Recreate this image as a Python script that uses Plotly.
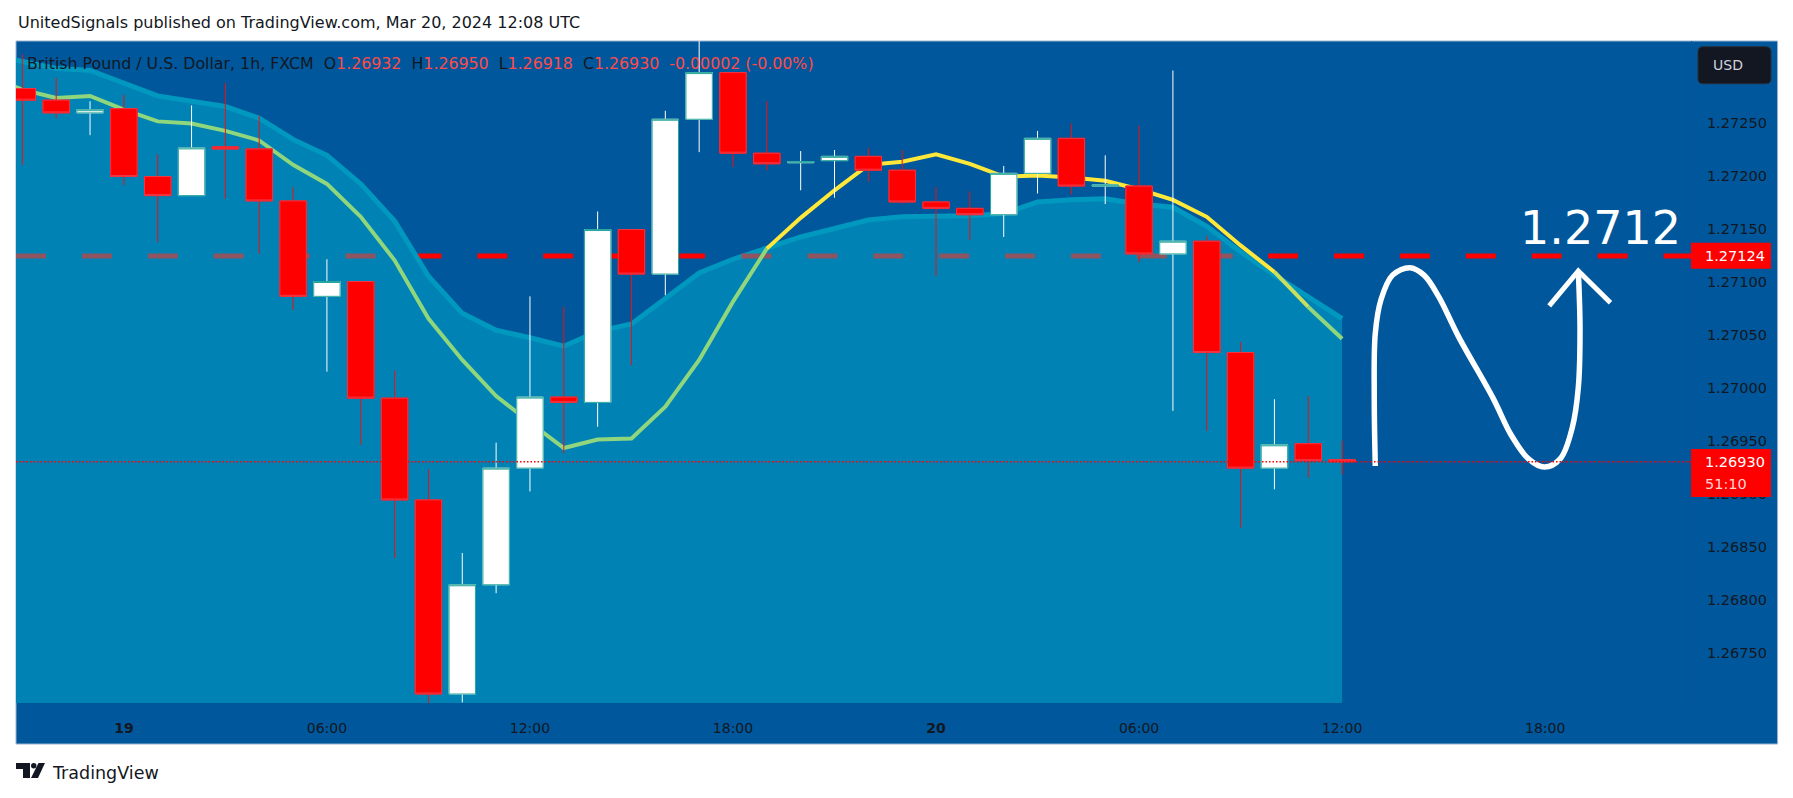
import pandas as pd
import plotly.graph_objects as go

# ---------- data ----------
times = pd.date_range("2024-03-18 21:00", periods=40, freq="h")
opens = [1.27282,1.27271,1.27259,1.27263,1.27199,1.27181,1.27227,1.27225,1.27176,1.27086,
         1.27100,1.26990,1.26894,1.26711,1.26814,1.26924,1.26991,1.26986,1.27149,1.27107,
         1.27253,1.27297,1.27221,1.27212,1.27214,1.27218,1.27205,1.27175,1.27169,1.27163,
         1.27202,1.27235,1.27190,1.27190,1.27126,1.27138,1.27033,1.26924,1.26947,1.26932]
highs = [1.27314,1.27292,1.27270,1.27276,1.27220,1.27266,1.27287,1.27256,1.27189,1.27121,
         1.27100,1.27016,1.26923,1.26844,1.26948,1.27086,1.27076,1.27166,1.27150,1.27261,
         1.27334,1.27297,1.27270,1.27223,1.27224,1.27226,1.27224,1.27189,1.27185,1.27209,
         1.27242,1.27249,1.27219,1.27247,1.27299,1.27143,1.27043,1.26989,1.26992,1.26950]
lows = [1.27210,1.27254,1.27238,1.27191,1.27137,1.27181,1.27178,1.27126,1.27073,1.27015,
        1.26946,1.26839,1.26701,1.26703,1.26806,1.26902,1.26938,1.26963,1.27021,1.27087,
        1.27222,1.27208,1.27205,1.27186,1.27179,1.27194,1.27173,1.27105,1.27139,1.27142,
        1.27183,1.27182,1.27173,1.27118,1.26978,1.26959,1.26868,1.26904,1.26915,1.26918]
closes = [1.27271,1.27259,1.27262,1.27199,1.27181,1.27226,1.27225,1.27176,1.27086,1.27100,
          1.26990,1.26894,1.26711,1.26814,1.26924,1.26991,1.26986,1.27149,1.27107,1.27253,
          1.27297,1.27221,1.27211,1.27213,1.27218,1.27205,1.27175,1.27169,1.27163,1.27202,
          1.27235,1.27190,1.27191,1.27126,1.27138,1.27033,1.26924,1.26946,1.26931,1.26930]

line_times = pd.date_range("2024-03-18 20:00", periods=41, freq="h")
ma_values = [1.27293,1.27281,1.27273,1.27275,1.27262,1.27251,1.27249,1.27242,1.27233,1.27210,
             1.27192,1.27161,1.27120,1.27065,1.27026,1.26992,1.26967,1.26943,1.26951,1.26952,
             1.26982,1.27026,1.27081,1.27131,1.27160,1.27186,1.27210,1.27213,1.27220,1.27211,
             1.27199,1.27200,1.27198,1.27195,1.27187,1.27177,1.27161,1.27134,1.27109,1.27076,1.27046]
band_values = [1.27314,1.27308,1.27301,1.27299,1.27287,1.27275,1.27270,1.27265,1.27254,1.27234,
               1.27219,1.27192,1.27157,1.27105,1.27070,1.27054,1.27047,1.27039,1.27053,1.27060,
               1.27084,1.27108,1.27121,1.27132,1.27142,1.27150,1.27158,1.27161,1.27161,1.27162,
               1.27164,1.27175,1.27177,1.27178,1.27173,1.27170,1.27152,1.27128,1.27106,1.27086,1.27065]

target_level = 1.27124
last_price = 1.26930

squiggle_hours = [36.98,36.95,36.98,37.15,37.49,38.0,38.42,38.85,39.44,40.46,41.0,41.5,41.98,42.45,42.8,42.98,43.03,42.98]
squiggle_prices = [1.26926,1.26990,1.27051,1.27083,1.27106,1.27113,1.27106,1.27086,1.27048,1.26990,1.26955,1.26933,1.26925,1.26933,1.26962,1.27000,1.27055,1.27110]
arrow_hours = [42.12,42.98,43.93]
arrow_prices = [1.27077,1.27110,1.27080]

price_ticks = [1.27250,1.27200,1.27150,1.27100,1.27050,1.27000,1.26950,1.26900,1.26850,1.26800,1.26750]
time_tick_hours = [0,6,12,18,24,30,36,42]
time_tick_labels = ["<b>19</b>","06:00","12:00","18:00","<b>20</b>","06:00","12:00","18:00"]

# ---------- style / layout ----------
W, H = 1793, 798
L, R, T, B = 15.5, 1691.0, 41.3, 703.0
FRAME_R, FRAME_B = 1777.6, 744.0
BG, FILL, BAND = "#00579B", "#0082B4", "#0098BF"
GREEN, YELLOW = "#8FD67C", "#FFE83A"
RED, MUTED = "#FF0000", "#8E5560"
INK = "#131722"
FONT = "DejaVu Sans"
DASH = "30px,35.9px"
t0 = times[3]


def at(h):
    return t0 + pd.Timedelta(hours=h)


def px(x):
    return (x - L) / (R - L)


def py(y):
    return 1 - (y - T) / (B - T)


def path(pts, close=True):
    s = "M " + " L ".join(f"{px(a):.6f},{py(b):.6f}" for a, b in pts)
    return s + (" Z" if close else "")


x_range = [at(-3.188), at(46.31)]
y_range = [1.267025, 1.273268]

fig = go.Figure()
# base overlay: level line, band, MA
fig.add_trace(go.Scatter(x=x_range, y=[target_level] * 2, mode="lines",
                         line=dict(color=RED, width=5, dash=DASH), hoverinfo="skip"))
fig.add_trace(go.Scatter(x=line_times, y=band_values, mode="lines", fill="tozeroy", fillcolor=FILL,
                         line=dict(color=BAND, width=5), hoverinfo="skip"))
fig.add_trace(go.Scatter(x=[at(-3.188), at(8.0)], y=[target_level] * 2, mode="lines",
                         line=dict(color=MUTED, width=5, dash=DASH), hoverinfo="skip"))
fig.add_trace(go.Scatter(x=[at(18.25), at(32.77)], y=[target_level] * 2, mode="lines",
                         line=dict(color=MUTED, width=5, dash=DASH), hoverinfo="skip"))
segments = [(0, 24, GREEN, 4), (23, 39, YELLOW, 4), (38, 40, "#C9DF60", 4), (39, 41, GREEN, 4)]
for a, b, colour, width in segments:
    fig.add_trace(go.Scatter(x=line_times[a:b], y=ma_values[a:b], mode="lines",
                             line=dict(color=colour, width=width), hoverinfo="skip"))

# candles on an overlay so they paint above the lines
fig.add_trace(go.Candlestick(x=times, open=opens, high=highs, low=lows, close=closes,
                             xaxis="x2", yaxis="y2", whiskerwidth=0,
                             increasing=dict(line=dict(color="#FFFFFF", width=1), fillcolor="#FFFFFF"),
                             decreasing=dict(line=dict(color="#EE1111", width=1), fillcolor=RED)))
body_hi = [max(o, c) for o, c in zip(opens, closes)]
body_lo = [min(o, c) for o, c in zip(opens, closes)]
fig.add_trace(go.Candlestick(x=times, open=opens, high=body_hi, low=body_lo, close=closes,
                             xaxis="x2", yaxis="y2", whiskerwidth=0,
                             increasing=dict(line=dict(color="#26A69A", width=1), fillcolor="#FFFFFF"),
                             decreasing=dict(line=dict(color="#F23645", width=1), fillcolor=RED)))

# hand-drawn path on a third overlay
fig.add_trace(go.Scatter(x=[at(h) for h in squiggle_hours], y=squiggle_prices, mode="lines",
                         xaxis="x3", yaxis="y3",
                         line=dict(color="#FFFFFF", width=5.5, shape="spline", smoothing=1.0), hoverinfo="skip"))
fig.add_trace(go.Scatter(x=[at(h) for h in arrow_hours], y=arrow_prices, mode="lines",
                         xaxis="x3", yaxis="y3",
                         line=dict(color="#FFFFFF", width=5), hoverinfo="skip"))

r = 5
usd = f"M {px(1698+r):.6f},{py(47):.6f} L {px(1771-r):.6f},{py(47):.6f} Q {px(1771):.6f},{py(47):.6f} {px(1771):.6f},{py(47+r):.6f} " \
      f"L {px(1771):.6f},{py(84-r):.6f} Q {px(1771):.6f},{py(84):.6f} {px(1771-r):.6f},{py(84):.6f} " \
      f"L {px(1698+r):.6f},{py(84):.6f} Q {px(1698):.6f},{py(84):.6f} {px(1698):.6f},{py(84-r):.6f} " \
      f"L {px(1698):.6f},{py(47+r):.6f} Q {px(1698):.6f},{py(47):.6f} {px(1698+r):.6f},{py(47):.6f} Z"

shapes = [
    dict(type="rect", xref="paper", yref="paper", x0=px(L), x1=px(FRAME_R), y0=py(T), y1=py(FRAME_B),
         fillcolor=BG, line=dict(color="#9DB4CF", width=1), layer="below"),
    dict(type="line", xref="paper", yref="y", x0=0, x1=1, y0=last_price, y1=last_price,
         line=dict(color=RED, width=1.5, dash="1.5px,2px"), layer="above"),
    dict(type="rect", xref="paper", yref="paper", x0=1, x1=px(1771), y0=py(243), y1=py(269),
         fillcolor=RED, line=dict(width=0), layer="above"),
    dict(type="rect", xref="paper", yref="paper", x0=1, x1=px(1771), y0=py(449), y1=py(497),
         fillcolor=RED, line=dict(width=0), layer="above"),
    dict(type="path", xref="paper", yref="paper", path=usd, fillcolor=INK,
         line=dict(color="#2A2E39", width=1), layer="above"),
    # TradingView mark
    dict(type="path", xref="paper", yref="paper", fillcolor=INK, line=dict(width=0), layer="above",
         path=path([(15.5, 763), (29.5, 763), (29.5, 778), (22.5, 778), (22.5, 769), (15.5, 769)])),
    dict(type="circle", xref="paper", yref="paper", x0=px(30.5), x1=px(36), y0=py(763), y1=py(768.5),
         fillcolor=INK, line=dict(width=0), layer="above"),
    dict(type="path", xref="paper", yref="paper", fillcolor=INK, line=dict(width=0), layer="above",
         path=path([(38, 763), (44.5, 763), (37.5, 778), (30.5, 778)])),
]


def note(x, y, text, size, color=INK, anchor="left"):
    return dict(xref="paper", yref="paper", x=px(x), y=py(y), text=text, showarrow=False,
                xanchor=anchor, yanchor="middle", align="left",
                font=dict(family=FONT, size=size, color=color))


def s(text, color):
    return f'<span style="color:{color}">{text}</span>'


NB = "\u00a0"
LR = "#FF4A4A"
legend_text = (s(f"British Pound / U.S. Dollar, 1h, FXCM{NB}{NB}O", INK) + s("1.26932", LR)
               + s(f"{NB}{NB}H", INK) + s("1.26950", LR) + s(f"{NB}{NB}L", INK) + s("1.26918", LR)
               + s(f"{NB}{NB}C", INK) + s("1.26930", LR) + s(f"{NB}{NB}-0.00002 (-0.00%)", LR))

annotations = [
    note(15, 23, "UnitedSignals published on TradingView.com, Mar 20, 2024 12:08 UTC", 16),
    note(25, 64, legend_text, 15.8),
    note(1600, 228, "1.2712", 46, "#FFFFFF", "center"),
    note(1711, 65, "USD", 14, "#D1D4DC"),
    note(1703, 256, "1.27124", 14.5, "#FFFFFF"),
    note(1703, 462, "1.26930", 14.5, "#FFFFFF"),
    note(1703, 484, "51:10", 14.5, "#FFD5D5"),
    note(50, 773, "TradingView", 17.5),
]

hidden = dict(range=x_range, visible=False, fixedrange=True, rangeslider=dict(visible=False))
hidden_y = dict(range=y_range, visible=False, fixedrange=True)

fig.update_layout(
    width=W, height=H, autosize=False,
    margin=dict(l=L, r=W - R, t=T, b=H - B, pad=0),
    paper_bgcolor="#FFFFFF", plot_bgcolor=BG,
    showlegend=False, boxgap=0.22, boxgroupgap=0,
    shapes=shapes, annotations=annotations,
    xaxis=dict(range=x_range, type="date", tickmode="array", tickvals=[at(h) for h in time_tick_hours],
               ticktext=time_tick_labels, ticks="outside", ticklen=12, tickcolor="rgba(0,0,0,0)",
               tickfont=dict(family=FONT, size=14, color=INK), showgrid=False, zeroline=False,
               rangeslider=dict(visible=False), showline=False),
    yaxis=dict(range=y_range, side="right", tickmode="array", tickvals=price_ticks,
               ticktext=[f"{p:.5f}" for p in price_ticks], ticks="outside", ticklen=12,
               tickcolor="rgba(0,0,0,0)", tickfont=dict(family=FONT, size=14.5, color=INK),
               showgrid=False, zeroline=False, showline=True, linecolor="#0F5491", linewidth=1),
    xaxis2=dict(overlaying="x", **hidden),
    yaxis2=dict(overlaying="y", **hidden_y),
    xaxis3=dict(overlaying="x", **hidden),
    yaxis3=dict(overlaying="y", **hidden_y),
)

fig.write_html("out.html", config=dict(displayModeBar=False),
               post_script="document.body.style.margin='0';")
